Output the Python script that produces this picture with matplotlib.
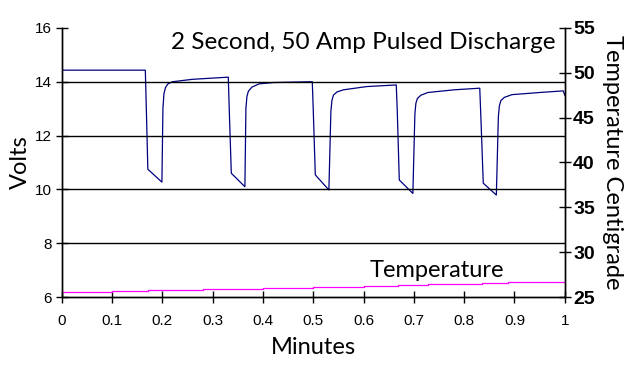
import matplotlib
matplotlib.use("Agg")
import matplotlib.pyplot as plt

# voltage trace (minutes, volts)
volt_t = [0.0, 0.166, 0.168, 0.171, 0.199, 0.201, 0.203, 0.206, 0.211, 0.220, 0.26, 0.331,
          0.333, 0.337, 0.364, 0.366, 0.368, 0.371, 0.378, 0.392, 0.420, 0.498,
          0.500, 0.504, 0.531, 0.535, 0.537, 0.540, 0.547, 0.560, 0.606, 0.665,
          0.667, 0.671, 0.698, 0.702, 0.704, 0.707, 0.714, 0.728, 0.780, 0.831,
          0.833, 0.838, 0.864, 0.868, 0.870, 0.873, 0.880, 0.895, 0.950, 0.997, 1.0]
volt_v = [14.43, 14.43, 13.0, 10.75, 10.27, 13.0, 13.55, 13.78, 13.92, 14.0, 14.09, 14.17,
          12.9, 10.6, 10.1, 13.0, 13.45, 13.65, 13.80, 13.92, 13.97, 14.0,
          12.9, 10.54, 9.98, 12.9, 13.3, 13.5, 13.62, 13.70, 13.82, 13.88,
          12.9, 10.35, 9.85, 12.8, 13.2, 13.38, 13.50, 13.60, 13.70, 13.76,
          12.8, 10.23, 9.79, 12.7, 13.1, 13.3, 13.42, 13.52, 13.60, 13.66, 13.5]

# temperature steps (minutes, deg C)
temp_t = [0.0, 0.1, 0.172, 0.28, 0.4, 0.5, 0.6, 0.668, 0.728, 0.836, 0.888, 1.0]
temp_c = [25.58, 25.69, 25.80, 25.91, 26.01, 26.12, 26.27, 26.38, 26.49, 26.56, 26.67, 26.67]

x_ticks = [0, 0.1, 0.2, 0.3, 0.4, 0.5, 0.6, 0.7, 0.8, 0.9, 1]
x_labels = ["0", "0.1", "0.2", "0.3", "0.4", "0.5", "0.6", "0.7", "0.8", "0.9", "1"]
volt_ticks = [6, 8, 10, 12, 14, 16]
temp_ticks = [25, 30, 35, 40, 45, 50, 55]

fig = plt.figure(figsize=(6.31, 3.77), dpi=100)
ax = fig.add_axes([0.098, 0.212, 0.797, 0.714])
ax2 = ax.twinx()

ax.plot(volt_t, volt_v, color="#000080", lw=0.9)
ax2.plot(temp_t, temp_c, color="#ff00ff", lw=0.9, drawstyle="steps-post")

ax.set_xlim(0, 1)
ax.set_ylim(6, 16)
ax2.set_ylim(25, 55)

for g in [8, 10, 12, 14]:
    ax.axhline(g, color="black", lw=1)

ax.set_xticks(x_ticks)
ax.set_xticklabels(x_labels, fontfamily="Liberation Sans", fontsize=11)
ax.set_yticks(volt_ticks)
ax.set_yticklabels([str(v) for v in volt_ticks], fontfamily="Liberation Sans", fontsize=11)
ax2.set_yticks(temp_ticks)
ax2.set_yticklabels([str(v) for v in temp_ticks], fontfamily="Liberation Sans",
                    fontsize=14, fontweight="bold")

ax.tick_params(axis="both", direction="inout", length=8, width=1, pad=3)
ax.tick_params(axis="x", pad=8)
ax2.tick_params(axis="y", direction="inout", length=8, width=1, pad=2)

for a in (ax, ax2):
    a.spines["top"].set_visible(False)
    for s in a.spines.values():
        s.set_linewidth(1)

ax.set_xlabel("Minutes", fontfamily="Lato", fontsize=17, labelpad=7)
ax.set_ylabel("Volts", fontfamily="Lato", fontsize=17)
ax.yaxis.set_label_coords(-0.062, 0.5)
ax2.set_ylabel("Temperature Centigrade", fontfamily="Lato", fontsize=17,
               rotation=-90, labelpad=20)

ax.text(0.982, 0.985, "2 Second, 50 Amp Pulsed Discharge", transform=ax.transAxes,
        ha="right", va="top", fontfamily="Lato", fontsize=17.5)
ax2.text(0.745, 26.8, "Temperature", ha="center", va="bottom",
         fontfamily="Lato", fontsize=17)

fig.savefig("out.png", dpi=100)
